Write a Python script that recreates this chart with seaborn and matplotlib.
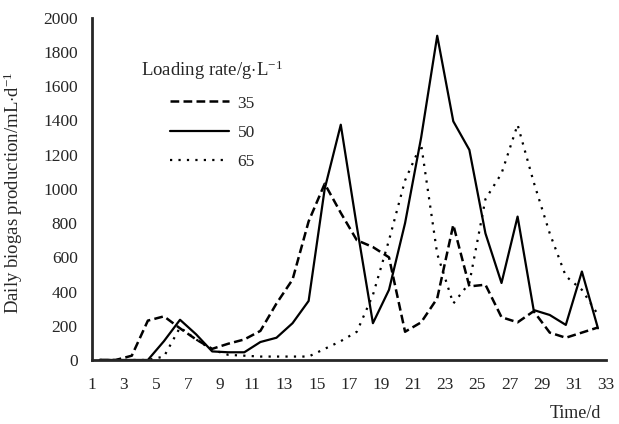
import numpy as np
import pandas as pd
import matplotlib
matplotlib.use('Agg')
import matplotlib.pyplot as plt
from matplotlib.lines import Line2D
from matplotlib.ticker import MultipleLocator
import seaborn as sns

# --- data ---
days = [1.5, 2.5, 3.5, 4.5, 5.5, 6.5, 7.5, 8.5, 9.5, 10.5,
        11.5, 12.5, 13.5, 14.5, 15.5, 16.5, 17.5, 18.5, 19.5, 20.5,
        21.5, 22.5, 23.5, 24.5, 25.5, 26.5, 27.5, 28.5, 29.5, 30.5,
        31.5, 32.5]

rate35 = [0, 0, 25, 230, 255, 185, 120, 65, 95, 120,
          170, 330, 470, 810, 1030, 860, 700, 660, 600, 165,
          220, 360, 790, 430, 440, 250, 220, 285, 160, 130,
          160, 190]
rate50 = [0, 0, 0, 0, 110, 235, 150, 50, 45, 45,
          105, 130, 215, 345, 1000, 1375, 780, 215, 410, 800,
          1300, 1895, 1395, 1228, 740, 450, 838, 292, 263, 205,
          517, 185]
rate65 = [0, 0, 0, 0, 20, 190, 120, 60, 30, 25,
          20, 20, 20, 20, 65, 110, 165, 380, 700, 1050,
          1260, 620, 330, 450, 940, 1090, 1375, 1040, 740, 490,
          410, 265]

rate_labels = ['35', '50', '65']
xtick_days = [1, 3, 5, 7, 9, 11, 13, 15, 17, 19, 21, 23, 25, 27, 29, 31, 33]

# --- style ---
sns.set_style('white')
plt.rcParams['font.family'] = ['Liberation Serif', 'DejaVu Serif']
plt.rcParams['mathtext.fontset'] = 'custom'
plt.rcParams['mathtext.rm'] = 'Liberation Serif'
plt.rcParams['mathtext.it'] = 'Liberation Serif:italic'

fig = plt.figure(figsize=(6.19, 4.24), dpi=100)
ax = fig.add_axes([0.148, 0.151, 0.831, 0.807])

styles = {
    '35': dict(dashes=(3.5, 1.7), lw=1.8),
    '50': dict(dashes=(None, None), lw=1.6),
    '65': dict(dashes=(1, 2.8), lw=1.6),
}

for lab, vals in zip(rate_labels, [rate35, rate50, rate65]):
    st = styles[lab]
    sns.lineplot(x=days, y=vals, color='black', linewidth=st['lw'], ax=ax)
    line = ax.lines[-1]
    if st['dashes'][0] is not None:
        line.set_dashes(st['dashes'])

ax.set_xlim(1, 33)
ax.set_ylim(0, 2000)
ax.set_xticks(xtick_days)
ax.set_xticklabels([str(d) for d in xtick_days])
ax.xaxis.set_minor_locator(MultipleLocator(1))
ax.yaxis.set_major_locator(MultipleLocator(200))

sns.despine(ax=ax)
for s in ['left', 'bottom']:
    ax.spines[s].set_linewidth(2)
ax.tick_params(axis='x', which='both', direction='in', length=4, width=1.5,
               pad=12, labelsize=12.5)
ax.tick_params(axis='y', which='major', direction='in', length=4, width=1.5,
               pad=10, labelsize=12.5)

ax.set_ylabel(r'Daily biogas production/mL$\cdot$d$^{-1}$', fontsize=13.5)
ax.yaxis.set_label_coords(-0.129, 0.488)
ax.set_xlabel('Time/d', fontsize=13)
ax.xaxis.set_label_coords(0.94, -0.132)

handles = [Line2D([], [], color='black', lw=styles[l]['lw'],
                  dashes=styles[l]['dashes'] if styles[l]['dashes'][0] else (None, None))
           for l in rate_labels]
leg = ax.legend(handles, rate_labels, title=r'Loading rate/g$\cdot$L$^{-1}$',
                loc='upper left', bbox_to_anchor=(0.08, 0.905), frameon=False,
                fontsize=12.5, title_fontsize=13.5, handlelength=3.4,
                handletextpad=0.5, labelspacing=0.75, borderpad=0)

fig.savefig('out.png', dpi=100, facecolor='white')
